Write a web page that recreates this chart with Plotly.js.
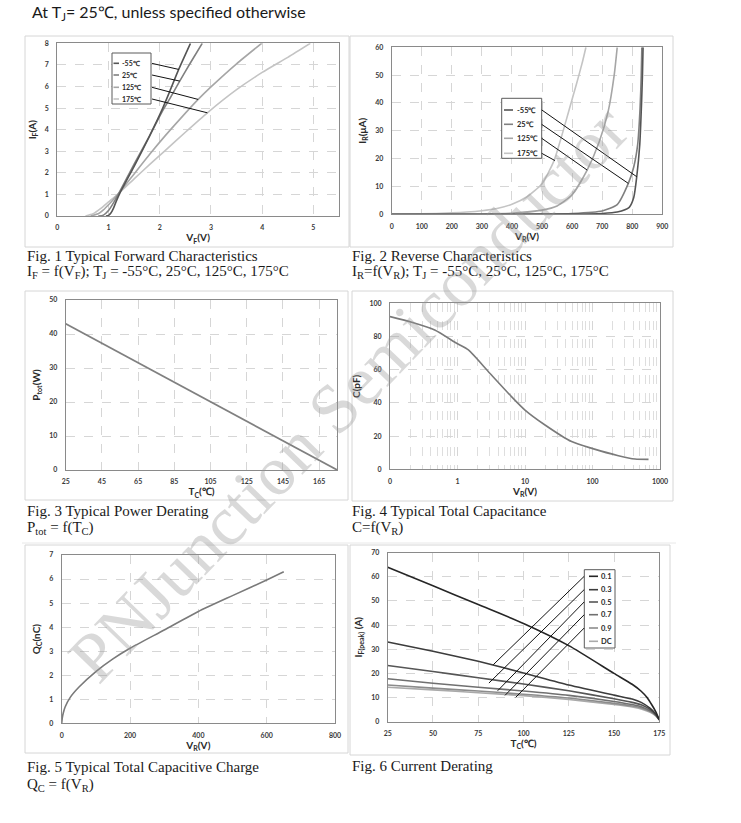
<!DOCTYPE html>
<html>
<head>
<meta charset="utf-8">
<script src="https://cdn.plot.ly/plotly-3.0.1.min.js"></script>
<style>
  body { margin: 0; background: #fff; }
  #chart { width: 741px; height: 823px; }
</style>
</head>
<body>
<div id="chart"></div>
<script>
// ---- data ----

// Fig. 1 forward characteristics: VF (V) -> IF (A)
var tempLabels = ['-55℃', '25℃', '125℃', '175℃'];
var tempColors = ['#555555', '#808080', '#a6a6a6', '#c4c4c4'];
var vfM55 = [0.95, 1.0, 1.05, 1.1, 1.15, 1.22, 1.5, 1.8, 2.05, 2.2, 2.37, 2.6];
var ifM55 = [0, 0.03, 0.15, 0.38, 0.68, 1.05, 2.3, 3.7, 4.95, 5.8, 6.79, 8];
var vf25 = [0.8, 0.9, 1.0, 1.1, 1.2, 1.5, 1.8, 2.05, 2.2, 2.39, 2.6, 2.83];
var if25 = [0, 0.04, 0.25, 0.62, 1.05, 2.4, 3.7, 4.85, 5.45, 6.25, 7.1, 8];
var vf125 = [0.65, 0.8, 0.9, 1.0, 1.1, 1.2, 1.5, 1.8, 2.1, 2.4, 2.75, 3.0, 3.5, 3.99];
var if125 = [0, 0.1, 0.28, 0.52, 0.78, 1.05, 1.95, 2.85, 3.7, 4.5, 5.4, 5.98, 7.05, 8];
var vf175 = [0.55, 0.7, 0.85, 1.0, 1.2, 1.5, 1.8, 2.1, 2.5, 2.93, 3.5, 4.0, 4.5, 4.94];
var if175 = [0, 0.1, 0.35, 0.65, 1.05, 1.72, 2.38, 3.02, 3.88, 4.78, 5.85, 6.65, 7.35, 8];

// Fig. 2 reverse characteristics: VR (V) -> IR (uA)
var vrM55 = [0, 300, 500, 600, 700, 750, 790, 805, 815, 825, 831, 834, 836];
var irM55 = [0, 0, 0.05, 0.1, 0.3, 0.8, 2.5, 6, 13.5, 25, 40, 50, 60];
var vr25 = [0, 300, 500, 600, 700, 750, 787, 805, 818, 826, 830, 832];
var ir25 = [0, 0, 0.1, 0.3, 1.2, 3.5, 11.1, 17, 25, 38, 50, 60];
var vr125 = [0, 200, 300, 400, 500, 550, 600, 650, 690, 720, 740, 750];
var ir125 = [0, 0.05, 0.1, 0.4, 1.5, 3, 7, 15.9, 26, 37, 50, 60];
var vr175 = [0, 100, 200, 250, 300, 350, 400, 450, 500, 540, 565, 590, 615, 635, 646];
var ir175 = [0, 0.15, 0.5, 0.8, 1.3, 2.1, 3.6, 6.3, 11, 19.3, 28, 37.5, 47, 55, 60];

// Fig. 3 power derating: TC (C) -> Ptot (W)
var tc3 = [25, 175];
var ptot3 = [43, 0];

// Fig. 4 capacitance: VR (V) -> C (pF)
var vr4 = [0.1, 0.21, 0.46, 0.97, 1.45, 2.87, 6.3, 10, 19.8, 49, 98, 242, 427, 676];
var cap4 = [92, 88.6, 83.9, 75.9, 71.9, 58.8, 43.8, 35.7, 26.7, 16.7, 12.6, 8.2, 6.2, 6.0];

// Fig. 5 capacitive charge: VR (V) -> Qc (nC)
var vr5 = [0, 2, 5, 10, 25, 50, 100, 150, 200, 300, 400, 500, 600, 650];
var qc5 = [0, 0.25, 0.45, 0.68, 1.08, 1.5, 2.15, 2.68, 3.12, 3.88, 4.65, 5.31, 5.96, 6.3];

// Fig. 6 current derating: TC (C) -> IF(peak) (A), one series per duty cycle
var dutyLabels = ['0.1', '0.3', '0.5', '0.7', '0.9', 'DC'];
var dutyColors = ['#262626', '#3c3c3c', '#565656', '#707070', '#8c8c8c', '#aaaaaa'];
var tc6 = [25, 50, 75, 100, 125, 150, 160, 165, 170, 173, 175];
var tc6D01 = [25, 50, 75, 100, 125, 150, 160, 165, 168, 171, 173, 175];
var ifD01 = [64, 56.3, 48.5, 40.7, 31.5, 20, 15.5, 12.6, 10.2, 6.8, 4.2, 0.8];
var ifD03 = [33, 29.2, 25, 20.2, 15.2, 11, 9.4, 8.0, 5.5, 3.2, 0.8];
var ifD05 = [23.3, 20.8, 18.2, 15.6, 12.8, 9.5, 8.0, 7.0, 5.0, 3.0, 0.8];
var ifD07 = [17.8, 15.9, 14.3, 12.7, 10.9, 8.4, 7.1, 6.2, 4.5, 2.8, 0.8];
var ifD09 = [15.2, 13.9, 12.7, 11.4, 9.8, 7.6, 6.5, 5.7, 4.2, 2.6, 0.8];
var ifDC = [14.3, 13.2, 12.0, 10.8, 9.2, 7.1, 6.1, 5.3, 3.9, 2.4, 0.8];

// leader lines from the legend boxes to the curves (data units)
var lead1From = [[1.85, 7.07], [1.85, 6.53], [1.85, 5.96], [1.85, 5.42]];
var lead1To = [[2.37, 6.79], [2.39, 6.25], [2.75, 5.40], [2.93, 4.78]];
var lead2From = [[499, 37.5], [499, 32.3], [499, 27.3], [499, 21.9]];
var lead2To = [[815, 13.5], [787, 11.1], [650, 15.9], [543, 19.3]];
var lead6From = [[133.5, 60.2], [133.5, 54.7], [133.5, 49.6], [133.5, 44.3], [133.5, 38.8]];
var lead6To = [[83.3, 23.6], [80.9, 16.0], [85.7, 12.8], [89.8, 10.9], [95.7, 10.1]];

// ---- page geometry (pixels) ----
var W = 741, H = 823;
function px(v) { return v / W; }
function py(v) { return 1 - v / H; }

var panels = [
  { plot: [57.3, 43.3, 339, 216], frame: [25, 36, 349, 247] },
  { plot: [391.7, 47.3, 662.3, 214.3], frame: [350, 36, 673, 247] },
  { plot: [65.7, 300, 337.3, 470], frame: [25, 291, 348, 500] },
  { plot: [390, 303.3, 660, 469.3], frame: [352, 291, 673, 501] },
  { plot: [61.7, 555, 335, 723.3], frame: [25, 545, 348, 753] },
  { plot: [387.7, 552.7, 659.3, 721.7], frame: [350, 545, 670, 755] }
];

var tickFont = { family: 'Lato', size: 7, color: '#3a3a3a', weight: 'bold' };
var titleFont = { family: 'Lato', size: 10, color: '#2a2a2a', weight: 'bold' };
var gridColor = '#d6d6d6';

function axis(i, dir, opts) {
  var p = panels[i].plot;
  var a = {
    domain: dir === 'x' ? [px(p[0]), px(p[2])] : [py(p[3]), py(p[1])],
    anchor: (dir === 'x' ? 'y' : 'x') + (i ? i + 1 : ''),
    showgrid: true, gridcolor: gridColor, griddash: 'dash', gridwidth: 1,
    showline: true, mirror: true, linecolor: '#8a8a8a', linewidth: 1,
    zeroline: false, ticks: '', tickfont: tickFont, fixedrange: true,
    ticklabelstandoff: dir === 'x' ? 5 : 6,
    title: { text: opts.title, font: titleFont, standoff: dir === 'x' ? 3 : 6 }
  };
  for (var k in opts) if (k !== 'title') a[k] = opts[k];
  return a;
}

function curve(i, x, y, color, width) {
  var s = i ? String(i + 1) : '';
  return {
    x: x, y: y, type: 'scatter', mode: 'lines',
    line: { color: color, width: width || 1.6, shape: 'spline', smoothing: 0.6 },
    xaxis: 'x' + s, yaxis: 'y' + s, showlegend: false, hoverinfo: 'skip'
  };
}

var data = [
  curve(0, vf175, if175, tempColors[3]),
  curve(0, vf125, if125, tempColors[2]),
  curve(0, vf25, if25, tempColors[1]),
  curve(0, vfM55, ifM55, tempColors[0]),
  curve(1, vr175, ir175, tempColors[3]),
  curve(1, vr125, ir125, tempColors[2]),
  curve(1, vr25, ir25, tempColors[1]),
  curve(1, vrM55, irM55, tempColors[0]),
  curve(2, tc3, ptot3, '#808080', 1.8),
  curve(3, vr4, cap4, '#7a7a7a', 1.6),
  curve(4, vr5, qc5, '#7a7a7a', 1.6),
  curve(5, tc6, ifDC, dutyColors[5]),
  curve(5, tc6, ifD09, dutyColors[4]),
  curve(5, tc6, ifD07, dutyColors[3]),
  curve(5, tc6, ifD05, dutyColors[2]),
  curve(5, tc6, ifD03, dutyColors[1]),
  curve(5, tc6D01, ifD01, dutyColors[0])
];

var shapes = [];
var annotations = [];

// chart-area frames
panels.forEach(function (p) {
  var f = p.frame;
  shapes.push({ type: 'rect', xref: 'paper', yref: 'paper', layer: 'below',
    x0: px(f[0]), x1: px(f[2]), y0: py(f[3]), y1: py(f[1]),
    line: { color: '#d6d6d6', width: 1 } });
});
shapes.push({ type: 'line', xref: 'paper', yref: 'paper', layer: 'below',
  x0: px(22), x1: px(676), y0: py(543), y1: py(543), line: { color: '#e8e8e8', width: 1 } });

// small legend boxes drawn like the Excel originals
function legendBox(box, rows, sampleX, textX, labels, colors, size) {
  shapes.push({ type: 'rect', xref: 'paper', yref: 'paper',
    x0: px(box[0]), x1: px(box[2]), y0: py(box[3]), y1: py(box[1]),
    fillcolor: '#ffffff', line: { color: '#5a5a5a', width: 1 } });
  labels.forEach(function (lab, k) {
    shapes.push({ type: 'line', xref: 'paper', yref: 'paper',
      x0: px(sampleX[0]), x1: px(sampleX[1]), y0: py(rows[k]), y1: py(rows[k]),
      line: { color: colors[k], width: 1.6 } });
    annotations.push({ xref: 'paper', yref: 'paper', x: px(textX), y: py(rows[k]),
      xanchor: 'left', yanchor: 'middle', showarrow: false, text: lab,
      font: { family: 'Lato', size: size, color: '#2a2a2a', weight: 'bold' } });
  });
}
legendBox([112, 53, 151, 104], [63.3, 75, 87.3, 99], [113.5, 119], 119.5, tempLabels, tempColors, 7);
legendBox([501.7, 98.3, 541.7, 158.3], [110, 124.3, 138.3, 153.3], [504, 513], 514.5, tempLabels, tempColors, 7.5);
legendBox([584.3, 569.7, 615, 648], [576.3, 589.7, 602, 614.7, 628, 641.3], [589, 598], 598.5, dutyLabels, dutyColors, 7.5);

function leaders(i, from, to) {
  var s = i ? String(i + 1) : '';
  from.forEach(function (a, k) {
    shapes.push({ type: 'line', xref: 'x' + s, yref: 'y' + s,
      x0: a[0], y0: a[1], x1: to[k][0], y1: to[k][1],
      line: { color: '#111111', width: 1 } });
  });
}
leaders(0, lead1From, lead1To);
leaders(1, lead2From, lead2To);
leaders(5, lead6From, lead6To);

// captions
var capFont = { family: 'Liberation Serif', size: 15, color: '#1a1a1a' };
function caption(x, y, text) {
  annotations.push({ xref: 'paper', yref: 'paper', x: px(x), y: py(y),
    xanchor: 'left', yanchor: 'middle', showarrow: false, text: text, font: capFont });
}
caption(25, 256, 'Fig. 1 Typical Forward Characteristics');
caption(25, 272, 'I<sub>F</sub> = f(V<sub>F</sub>); T<sub>J</sub> = -55°C, 25°C, 125°C, 175°C');
caption(350, 256, 'Fig. 2 Reverse Characteristics');
caption(350, 272, 'I<sub>R</sub>=f(V<sub>R</sub>); T<sub>J</sub> = -55°C, 25°C, 125°C, 175°C');
caption(25, 511, 'Fig. 3 Typical Power Derating');
caption(25, 528, 'P<sub>tot</sub> = f(T<sub>C</sub>)');
caption(350, 511, 'Fig. 4 Typical Total Capacitance');
caption(350, 528, 'C=f(V<sub>R</sub>)');
caption(25, 767, 'Fig. 5 Typical Total Capacitive Charge');
caption(25, 785, 'Q<sub>C</sub> = f(V<sub>R</sub>)');
caption(350, 766, 'Fig. 6 Current Derating');

annotations.push({ xref: 'paper', yref: 'paper', x: px(30), y: py(12),
  xanchor: 'left', yanchor: 'middle', showarrow: false,
  text: 'At T<sub>J</sub>= 25℃, unless specified otherwise',
  font: { family: 'Lato', size: 16, color: '#1a1a1a' } });

// watermark
annotations.push({ xref: 'paper', yref: 'paper', x: px(348), y: py(393),
  xanchor: 'center', yanchor: 'middle', showarrow: false, textangle: -46,
  text: 'PNJunction Semiconductor',
  font: { family: 'Liberation Serif', size: 70, color: 'rgba(150,150,150,0.36)' } });

var layout = {
  width: W, height: H,
  margin: { l: 0, r: 0, t: 0, b: 0 },
  paper_bgcolor: '#ffffff', plot_bgcolor: '#ffffff',
  showlegend: false,
  xaxis: axis(0, 'x', { title: 'V<sub>F</sub>(V)', range: [0, 5.5], tickvals: [0, 1, 2, 3, 4, 5] }),
  yaxis: axis(0, 'y', { title: 'I<sub>F</sub>(A)', range: [0, 8], dtick: 1 }),
  xaxis2: axis(1, 'x', { title: 'V<sub>R</sub>(V)', range: [0, 900], dtick: 100 }),
  yaxis2: axis(1, 'y', { title: 'I<sub>R</sub>(μA)', range: [0, 60], dtick: 10 }),
  xaxis3: axis(2, 'x', { title: 'T<sub>C</sub>(℃)', range: [25, 175], tick0: 25, dtick: 20 }),
  yaxis3: axis(2, 'y', { title: 'P<sub>tot</sub>(W)', range: [0, 50], dtick: 10 }),
  xaxis4: axis(3, 'x', { title: 'V<sub>R</sub>(V)', type: 'log', range: [-1, 3],
    tickvals: [0.1, 1, 10, 100, 1000], ticktext: ['0', '1', '10', '100', '1000'],
    minor: { dtick: 'D1', showgrid: true, gridcolor: '#dedede', griddash: 'dash', gridwidth: 1 } }),
  yaxis4: axis(3, 'y', { title: 'C(pF)', range: [0, 100], dtick: 20 }),
  xaxis5: axis(4, 'x', { title: 'V<sub>R</sub>(V)', range: [0, 800], dtick: 200 }),
  yaxis5: axis(4, 'y', { title: 'Q<sub>C</sub>(nC)', range: [0, 7], dtick: 1 }),
  xaxis6: axis(5, 'x', { title: 'T<sub>C</sub>(℃)', range: [25, 175], tick0: 25, dtick: 25 }),
  yaxis6: axis(5, 'y', { title: 'I<sub>F(peak)</sub> (A)', range: [0, 70], dtick: 10 }),
  shapes: shapes,
  annotations: annotations
};

Plotly.newPlot('chart', data, layout, { staticPlot: true, displayModeBar: false });
</script>
</body>
</html>
